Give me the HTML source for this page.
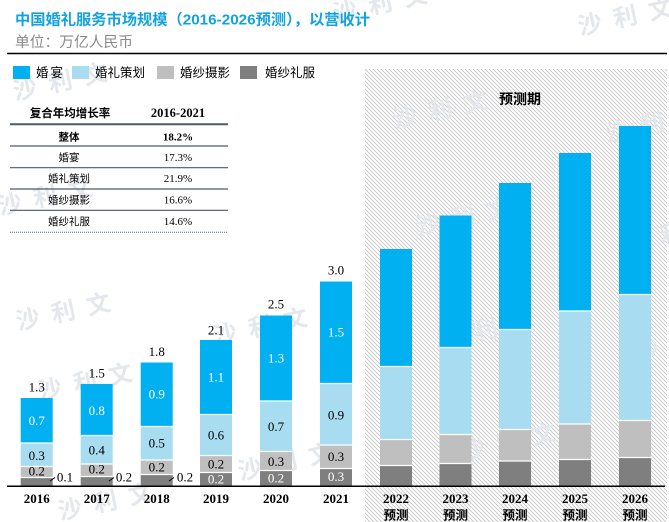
<!DOCTYPE html>
<html><head><meta charset="utf-8"><style>
html,body{margin:0;padding:0;background:#fff;}
svg{display:block;}
.cj{font-family:"Liberation Sans","Noto Sans CJK SC",sans-serif;}
.sf{font-family:"Liberation Serif","Noto Serif CJK SC",serif;}
.wm{font-family:"Noto Sans CJK SC",sans-serif;font-weight:bold;fill:#e4e8ed;font-size:24px;letter-spacing:12px;}
</style></head><body>
<svg width="669" height="522" viewBox="0 0 669 522" xmlns="http://www.w3.org/2000/svg">
<defs>
<pattern id="h" patternUnits="userSpaceOnUse" width="4" height="4">
<path d="M0,0 L4,4 M-1,3 L1,5 M3,-1 L5,1" stroke="#c4c4c4" stroke-width="0.9"/>
</pattern>
</defs>
<rect width="669" height="522" fill="#fff"/>
<!-- hatched forecast region -->
<rect x="365" y="69" width="302" height="453" fill="url(#h)"/>

<!-- watermarks -->
<g>
<text class="wm" transform="translate(15,100) rotate(-12)">沙利文</text>
<text class="wm" transform="translate(0,215) rotate(-12)">沙利文</text>
<text class="wm" transform="translate(18,330) rotate(-12)">沙利文</text>
<text class="wm" transform="translate(40,400) rotate(-12)">沙利文</text>
<text class="wm" transform="translate(60,520) rotate(-12)">沙利文</text>
<text class="wm" transform="translate(215,345) rotate(-12)">沙利文</text>
<text class="wm" transform="translate(240,480) rotate(-12)">沙利文</text>
<text class="wm" transform="translate(395,128) rotate(-12)">沙利文</text>
<text class="wm" transform="translate(418,235) rotate(-12)">沙利文</text>
<text class="wm" transform="translate(440,348) rotate(-12)">沙利文</text>
<text class="wm" transform="translate(463,460) rotate(-12)">沙利文</text>
<text class="wm" transform="translate(607,142) rotate(-12)">沙利文</text>
<text class="wm" transform="translate(627,252) rotate(-12)">沙利文</text>
<text class="wm" transform="translate(637,360) rotate(-12)">沙利文</text>
<text class="wm" transform="translate(335,22) rotate(-12)">沙利文</text>
<text class="wm" transform="translate(580,35) rotate(-12)">沙利文</text>
</g>

<!-- title -->
<text x="15" y="24.5" class="cj" font-size="15" font-weight="bold" fill="#12a3df" textLength="355" lengthAdjust="spacingAndGlyphs">中国婚礼服务市场规模（2016-2026预测），以营收计</text>
<text x="15" y="47" class="cj" font-size="14.5" fill="#8a8a8a" textLength="118" lengthAdjust="spacingAndGlyphs">单位：万亿人民币</text>
<line x1="7" y1="53.5" x2="667" y2="53.5" stroke="#000" stroke-width="1.6"/>

<!-- legend -->
<rect x="13" y="66" width="17" height="13" fill="#00b0f0"/>
<text x="36" y="77" class="cj" font-size="12.5" fill="#000" textLength="27">婚宴</text>
<rect x="72" y="66" width="17" height="13" fill="#a8dcf0"/>
<text x="95" y="77" class="cj" font-size="12.5" fill="#000" textLength="50">婚礼策划</text>
<rect x="157" y="66" width="17" height="13" fill="#bfbfbf"/>
<text x="180" y="77" class="cj" font-size="12.5" fill="#000" textLength="50">婚纱摄影</text>
<rect x="240" y="66" width="17" height="13" fill="#7f7f7f"/>
<text x="265" y="77" class="cj" font-size="12.5" fill="#000" textLength="50">婚纱礼服</text>

<!-- CAGR table -->
<g text-anchor="middle">
<text x="70" y="117" class="cj" font-size="11.5" font-weight="bold" fill="#000">复合年均增长率</text>
<text x="178" y="117" class="sf" font-size="12.5" font-weight="bold" fill="#000">2016-2021</text>
<text x="69" y="140.5" class="cj" font-size="10.5" font-weight="bold" fill="#000">整体</text>
<text x="178" y="140.5" class="sf" font-size="11" font-weight="bold" fill="#000">18.2%</text>
<text x="69" y="161" class="cj" font-size="10.5" fill="#000">婚宴</text>
<text x="178" y="161" class="sf" font-size="11" fill="#000">17.3%</text>
<text x="69" y="182" class="cj" font-size="10.5" fill="#000">婚礼策划</text>
<text x="178" y="182" class="sf" font-size="11" fill="#000">21.9%</text>
<text x="69" y="203.5" class="cj" font-size="10.5" fill="#000">婚纱摄影</text>
<text x="178" y="203.5" class="sf" font-size="11" fill="#000">16.6%</text>
<text x="69" y="225" class="cj" font-size="10.5" fill="#000">婚纱礼服</text>
<text x="178" y="225" class="sf" font-size="11" fill="#000">14.6%</text>
</g>
<line x1="10" y1="124.3" x2="228" y2="124.3" stroke="#4a5a70" stroke-width="2"/>
<g stroke="#4a5a70" stroke-width="1.2">
<line x1="10" y1="146" x2="228" y2="146"/>
<line x1="10" y1="167.7" x2="228" y2="167.7"/>
<line x1="10" y1="189" x2="228" y2="189"/>
<line x1="10" y1="210.3" x2="228" y2="210.3"/>
</g>
<line x1="10" y1="232.3" x2="228" y2="232.3" stroke="#4a6a90" stroke-width="1" stroke-dasharray="1,1"/>

<!-- bars -->
<g id="bars"></g>
<!-- 2016 -->
<rect x="20.7" y="398" width="32" height="45" fill="#00b0f0"/>
<rect x="20.7" y="443" width="32" height="23.5" fill="#a8dcf0"/>
<rect x="20.7" y="466.5" width="32" height="11" fill="#bfbfbf"/>
<rect x="20.7" y="477.5" width="32" height="8.5" fill="#7f7f7f"/>
<!-- 2017 -->
<rect x="80.7" y="384" width="32" height="51.5" fill="#00b0f0"/>
<rect x="80.7" y="435.5" width="32" height="28.5" fill="#a8dcf0"/>
<rect x="80.7" y="464" width="32" height="12.5" fill="#bfbfbf"/>
<rect x="80.7" y="476.5" width="32" height="9.5" fill="#7f7f7f"/>
<!-- 2018 -->
<rect x="140.7" y="362.5" width="32" height="64" fill="#00b0f0"/>
<rect x="140.7" y="426.5" width="32" height="33.5" fill="#a8dcf0"/>
<rect x="140.7" y="460" width="32" height="14.5" fill="#bfbfbf"/>
<rect x="140.7" y="474.5" width="32" height="11.5" fill="#7f7f7f"/>
<!-- 2019 -->
<rect x="200" y="340" width="32" height="74.5" fill="#00b0f0"/>
<rect x="200" y="414.5" width="32" height="41" fill="#a8dcf0"/>
<rect x="200" y="455.5" width="32" height="17" fill="#bfbfbf"/>
<rect x="200" y="472.5" width="32" height="13.5" fill="#7f7f7f"/>
<!-- 2020 -->
<rect x="260" y="315.5" width="32" height="85.5" fill="#00b0f0"/>
<rect x="260" y="401" width="32" height="50.5" fill="#a8dcf0"/>
<rect x="260" y="451.5" width="32" height="19" fill="#bfbfbf"/>
<rect x="260" y="470.5" width="32" height="15.5" fill="#7f7f7f"/>
<!-- 2021 -->
<rect x="320" y="281.5" width="32" height="102" fill="#00b0f0"/>
<rect x="320" y="383.5" width="32" height="61.5" fill="#a8dcf0"/>
<rect x="320" y="445" width="32" height="23.5" fill="#bfbfbf"/>
<rect x="320" y="468.5" width="32" height="17.5" fill="#7f7f7f"/>
<!-- 2022 -->
<rect x="380" y="249" width="32" height="117.5" fill="#00b0f0"/>
<rect x="380" y="366.5" width="32" height="73" fill="#a8dcf0"/>
<rect x="380" y="439.5" width="32" height="26" fill="#bfbfbf"/>
<rect x="380" y="465.5" width="32" height="20.5" fill="#7f7f7f"/>
<!-- 2023 -->
<rect x="439.5" y="215.5" width="32" height="132" fill="#00b0f0"/>
<rect x="439.5" y="347.5" width="32" height="87" fill="#a8dcf0"/>
<rect x="439.5" y="434.5" width="32" height="29" fill="#bfbfbf"/>
<rect x="439.5" y="463.5" width="32" height="22.5" fill="#7f7f7f"/>
<!-- 2024 -->
<rect x="499" y="183" width="32" height="146.5" fill="#00b0f0"/>
<rect x="499" y="329.5" width="32" height="100" fill="#a8dcf0"/>
<rect x="499" y="429.5" width="32" height="31.5" fill="#bfbfbf"/>
<rect x="499" y="461" width="32" height="25" fill="#7f7f7f"/>
<!-- 2025 -->
<rect x="559" y="153" width="32" height="158" fill="#00b0f0"/>
<rect x="559" y="311" width="32" height="113" fill="#a8dcf0"/>
<rect x="559" y="424" width="32" height="35.5" fill="#bfbfbf"/>
<rect x="559" y="459.5" width="32" height="26.5" fill="#7f7f7f"/>
<!-- 2026 -->
<rect x="619" y="126" width="32" height="168.5" fill="#00b0f0"/>
<rect x="619" y="294.5" width="32" height="126" fill="#a8dcf0"/>
<rect x="619" y="420.5" width="32" height="37" fill="#bfbfbf"/>
<rect x="619" y="457.5" width="32" height="28.5" fill="#7f7f7f"/>

<!-- white separators -->
<g stroke="#fff" stroke-width="1.2">
<path d="M20.7,443H52.7M20.7,466.5H52.7M20.7,477.5H52.7"/>
<path d="M80.7,435.5H112.7M80.7,464H112.7M80.7,476.5H112.7"/>
<path d="M140.7,426.5H172.7M140.7,460H172.7M140.7,474.5H172.7"/>
<path d="M200,414.5H232M200,455.5H232M200,472.5H232"/>
<path d="M260,401H292M260,451.5H292M260,470.5H292"/>
<path d="M320,383.5H352M320,445H352M320,468.5H352"/>
<path d="M380,366.5H412M380,439.5H412M380,465.5H412"/>
<path d="M439.5,347.5H471.5M439.5,434.5H471.5M439.5,463.5H471.5"/>
<path d="M499,329.5H531M499,429.5H531M499,461H531"/>
<path d="M559,311H591M559,424H591M559,459.5H591"/>
<path d="M619,294.5H651M619,420.5H651M619,457.5H651"/>
</g>

<!-- axis -->
<line x1="7" y1="486.3" x2="665" y2="486.3" stroke="#000" stroke-width="1.5"/>

<!-- value labels -->
<g class="sf" font-size="13" text-anchor="middle">
<!-- totals -->
<text x="36.7" y="391.5" fill="#000">1.3</text>
<text x="96.7" y="377.5" fill="#000">1.5</text>
<text x="156.7" y="356" fill="#000">1.8</text>
<text x="216" y="334.5" fill="#000">2.1</text>
<text x="276" y="308.5" fill="#000">2.5</text>
<text x="336" y="274.5" fill="#000">3.0</text>
<!-- blue -->
<text x="36.7" y="425" fill="#fff">0.7</text>
<text x="96.7" y="415" fill="#fff">0.8</text>
<text x="156.7" y="398.5" fill="#fff">0.9</text>
<text x="216" y="381.5" fill="#fff">1.1</text>
<text x="276" y="362.5" fill="#fff">1.3</text>
<text x="336" y="336.5" fill="#fff">1.5</text>
<!-- light -->
<text x="36.7" y="460" fill="#000">0.3</text>
<text x="96.7" y="454.5" fill="#000">0.4</text>
<text x="156.7" y="447.5" fill="#000">0.5</text>
<text x="216" y="439.5" fill="#000">0.6</text>
<text x="276" y="431" fill="#000">0.7</text>
<text x="336" y="419.5" fill="#000">0.9</text>
<!-- gray -->
<text x="36.7" y="475.5" fill="#000">0.2</text>
<text x="96.7" y="473.5" fill="#000">0.2</text>
<text x="156.7" y="471.5" fill="#000">0.2</text>
<text x="216" y="468.5" fill="#000">0.2</text>
<text x="276" y="466" fill="#000">0.3</text>
<text x="336" y="461" fill="#000">0.3</text>
<!-- dark -->
<text x="216" y="483.5" fill="#fff">0.2</text>
<text x="276" y="482.5" fill="#fff">0.2</text>
<text x="336" y="481" fill="#fff">0.3</text>
<!-- outside -->
<text x="65" y="481.5" fill="#000">0.1</text>
<text x="124" y="481.5" fill="#000">0.2</text>
<text x="185" y="481.5" fill="#000">0.2</text>
</g>
<g stroke="#000" stroke-width="1">
<line x1="50" y1="481" x2="55" y2="477.5"/>
<line x1="109" y1="481" x2="114" y2="477.5"/>
<line x1="169" y1="481" x2="174" y2="477.5"/>
</g>

<!-- year labels -->
<g class="sf" font-size="13" font-weight="bold" text-anchor="middle" fill="#000">
<text x="36.7" y="503">2016</text>
<text x="96.7" y="503">2017</text>
<text x="156.7" y="503">2018</text>
<text x="216" y="503">2019</text>
<text x="276" y="503">2020</text>
<text x="336" y="503">2021</text>
<text x="396" y="503">2022</text>
<text x="455.5" y="503">2023</text>
<text x="515" y="503">2024</text>
<text x="575" y="503">2025</text>
<text x="635" y="503">2026</text>
</g>
<g class="cj" font-size="12.5" font-weight="bold" text-anchor="middle" fill="#000">
<text x="396" y="519.5">预测</text>
<text x="455.5" y="519.5">预测</text>
<text x="515" y="519.5">预测</text>
<text x="575" y="519.5">预测</text>
<text x="635" y="519.5">预测</text>
</g>

<text x="520" y="104" class="cj" font-size="14" font-weight="bold" text-anchor="middle" fill="#000">预测期</text>
</svg>
</body></html>
